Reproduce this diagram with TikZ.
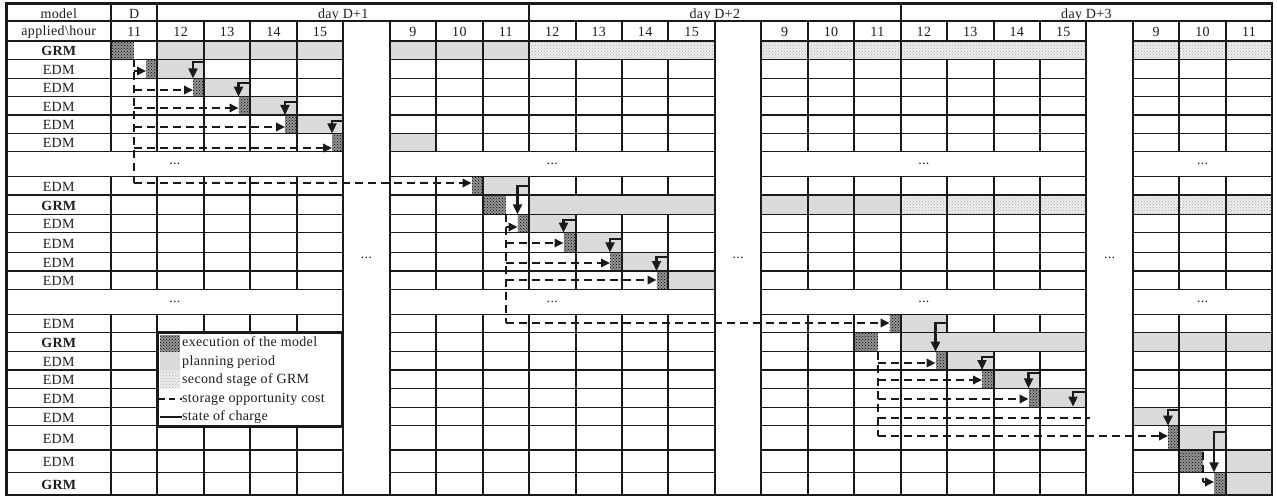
\documentclass[tikz,border=0pt]{standalone}
\usepackage{fontspec}
\setmainfont{Liberation Serif}[LetterSpace=2.5]
\usetikzlibrary{arrows.meta,patterns}
\definecolor{ln}{HTML}{1A1A1A}
\definecolor{plan}{HTML}{DADADA}
\definecolor{txtc}{HTML}{1E1E1E}
\newcommand{\mycell}[6]{\node[#6, anchor=north west, minimum width={#4-#2}, minimum height={#5-#3}] (#1) at ({#2},{#3}) {};}
\tikzset{
  cel/.style={inner sep=0pt, outer sep=0pt},
  exe/.style={cel, preaction={fill=black!42}, pattern=crosshatch dots, pattern color=black},
  pln/.style={cel, fill=plan},
  sec/.style={cel, preaction={fill=black!7}, pattern=crosshatch dots, pattern color=black!32},
  hl/.style={draw=ln, line width=1.3pt},
  vl/.style={draw=ln, line width=2pt},
  dsh/.style={draw=ln, line width=1.8pt, dash pattern=on 8pt off 5pt},
  dtip/.style={-{Triangle[length=9pt,width=8.5pt]}},
  soc/.style={draw=ln, line width=2.2pt, -{Triangle[length=10pt,width=9pt]}},
  txt/.style={inner sep=0pt, text=txtc, font=\fontsize{14}{16}\selectfont},
}
\begin{document}
\begin{tikzpicture}[x=1pt,y=-1pt,declare function={cx(\i)=111+46.45*\i;}]
\useasboundingbox (0,0) rectangle (1277,497);
\fill[white] (0,0) rectangle (1277,497);
% ---------- multi-cell fills
\fill[plan] ({cx(1)},41) rectangle ({cx(5)},59.3);
\fill[plan] ({cx(6)},41) rectangle ({cx(9)},59.3);
\path[sec] ({cx(9)},41) rectangle ({cx(13)},59.3);
\path[sec] ({cx(14)},41) rectangle ({cx(21)},59.3);
\path[sec] ({cx(22)},41) rectangle ({cx(25)},59.3);
\fill[plan] ({cx(9)},195) rectangle ({cx(13)},214.3);
\fill[plan] ({cx(14)},195) rectangle ({cx(17)},214.3);
\path[sec] ({cx(17)},195) rectangle ({cx(21)},214.3);
\path[sec] ({cx(22)},195) rectangle ({cx(25)},214.3);
\fill[plan] ({cx(17)},332.2) rectangle ({cx(21)},351.7);
\fill[plan] ({cx(22)},332.2) rectangle ({cx(25)},351.7);
\fill[plan] ({cx(24)},450) rectangle ({cx(25)},495);
% ---------- planning cells
\mycell{p3}{cx(1)}{59.3}{cx(2)}{78.3}{pln}
\mycell{p4}{cx(2)}{78.3}{cx(3)}{96.7}{pln}
\mycell{p5}{cx(3)}{96.7}{cx(4)}{115}{pln}
\mycell{p6}{cx(4)}{115}{cx(5)}{133.3}{pln}
\mycell{p7}{cx(6)}{133.3}{cx(7)}{151.7}{pln}
\mycell{p9}{cx(8)}{176.7}{cx(9)}{195}{pln}
\mycell{p11}{cx(9)}{214.3}{cx(10)}{232.7}{pln}
\mycell{p12}{cx(10)}{232.7}{cx(11)}{252.3}{pln}
\mycell{p13}{cx(11)}{252.3}{cx(12)}{271}{pln}
\mycell{p14}{cx(12)}{271}{cx(13)}{289.3}{pln}
\mycell{p16}{cx(17)}{314.3}{cx(18)}{332.2}{pln}
\mycell{p18}{cx(18)}{351.7}{cx(19)}{370}{pln}
\mycell{p19}{cx(19)}{370}{cx(20)}{388.3}{pln}
\mycell{p20}{cx(20)}{388.3}{cx(21)}{407.3}{pln}
\mycell{p21}{cx(22)}{407.3}{cx(23)}{425.7}{pln}
\mycell{p22}{cx(23)}{425.7}{cx(24)}{450}{pln}
% ---------- execution cells
\mycell{g1}{111}{41}{134}{59.3}{exe}
\mycell{e3}{146}{59.3}{cx(1)}{78.3}{exe}
\mycell{e4}{193}{78.3}{cx(2)}{96.7}{exe}
\mycell{e5}{238.5}{96.7}{cx(3)}{115}{exe}
\mycell{e6}{285}{115}{cx(4)}{133.3}{exe}
\mycell{e7}{332}{133.3}{cx(5)}{151.7}{exe}
\mycell{e9}{471.5}{176.7}{cx(8)}{195}{exe}
\mycell{g2}{cx(8)}{195}{506}{214.3}{exe}
\mycell{e11}{517.5}{214.3}{cx(9)}{232.7}{exe}
\mycell{e12}{563.5}{232.7}{cx(10)}{252.3}{exe}
\mycell{e13}{610}{252.3}{cx(11)}{271}{exe}
\mycell{e14}{656.5}{271}{cx(12)}{289.3}{exe}
\mycell{e16}{889.5}{314.3}{cx(17)}{332.2}{exe}
\mycell{g3}{cx(16)}{332.2}{878}{351.7}{exe}
\mycell{e18}{935.5}{351.7}{cx(18)}{370}{exe}
\mycell{e19}{982}{370}{cx(19)}{388.3}{exe}
\mycell{e20}{1028.5}{388.3}{cx(20)}{407.3}{exe}
\mycell{e22}{1168}{425.7}{cx(23)}{450}{exe}
\mycell{g4}{cx(23)}{450}{1203}{472.3}{exe}
\mycell{e24}{1214}{472.3}{cx(24)}{495}{exe}
% ---------- grid
\foreach \y in {41,59.3,78.3,96.7,115,133.3,151.7,176.7,195,214.3,232.7,252.3,271,289.3,314.3,332.2,351.7,370,388.3,407.3,425.7,450,472.3}
  \foreach \a/\b in {6.5/343.25,389.7/714.85,761.3/1086.45,1132.9/1272.25}
    \draw[hl] (\a,\y) -- (\b,\y);
\draw[hl] (6.5,21) -- (1272.25,21);
\foreach \a/\b in {3.5/151.7,176.7/289.3,314.3/495} \draw[vl] (111,\a) -- (111,\b);
\foreach \i in {1,9,17} \foreach \a/\b in {3.5/151.7,176.7/289.3,314.3/495} \draw[vl] ({cx(\i)},\a) -- ({cx(\i)},\b);
\foreach \i in {2,3,4,7,8,15,16,23,24} \foreach \a/\b in {21/151.7,176.7/289.3,314.3/495} \draw[vl] ({cx(\i)},\a) -- ({cx(\i)},\b);
\foreach \i in {10,11,12} \foreach \a/\b in {21/41,59.3/151.7,176.7/195,214.3/289.3,314.3/495} \draw[vl] ({cx(\i)},\a) -- ({cx(\i)},\b);
\foreach \i in {18,19,20} \foreach \a/\b in {21/41,59.3/151.7,176.7/289.3,314.3/332.2,351.7/495} \draw[vl] ({cx(\i)},\a) -- ({cx(\i)},\b);
\foreach \i in {5,6,13,14,21,22} \draw[vl] ({cx(\i)},21) -- ({cx(\i)},495);
\draw[draw=ln,line width=2.4pt] (6.5,3.5) rectangle (1272.25,495);
% ---------- header
\node[txt,anchor=base] (hmodel) at (58.75,18.3) {model};
\node[txt,anchor=base] (happ) at (58.75,36) {applied\textbackslash hour};
\node[txt,anchor=base] (hD) at ({cx(0)+23.2},18.3) {D};
\node[txt,anchor=base] (hD1) at ({cx(5)},18.3) {day D+1};
\node[txt,anchor=base] (hD2) at ({cx(13)},18.3) {day D+2};
\node[txt,anchor=base] (hD3) at ({cx(21)},18.3) {day D+3};
\foreach \i/\h in {0/11,1/12,2/13,3/14,4/15,6/9,7/10,8/11,9/12,10/13,11/14,12/15,14/9,15/10,16/11,17/12,18/13,19/14,20/15,22/9,23/10,24/11}
  \node[txt,anchor=base] (h\i) at ({cx(\i)+23.2},36.5) {\h};
% ---------- row labels
\foreach \y/\t [count=\k] in {50.15/{\bfseries GRM},68.8/EDM,87.5/EDM,105.85/EDM,124.15/EDM,142.5/EDM,185.85/EDM,204.65/{\bfseries GRM},223.5/EDM,242.5/EDM,261.65/EDM,280.15/EDM,323.25/EDM,341.95/{\bfseries GRM},360.85/EDM,379.15/EDM,397.8/EDM,416.5/EDM,437.85/EDM,461.15/EDM,483.65/{\bfseries GRM}}
  \node[txt,anchor=base] (lab\k) at (58.75,\y+5.5) {\t};
% ---------- dots
\foreach \i in {5,13,21} \node[txt] (gd\i) at ({cx(\i)+23.2},258) {...};
\foreach \x [count=\k] in {174.9,552.3,923.9,1202.6} {
  \node[txt] (da\k) at (\x,164) {...};
  \node[txt] (db\k) at (\x,301.8) {...};
}
% ---------- storage opportunity cost (dashed)
\coordinate (v1) at (134,59.3);
\draw[dsh] (v1) -- (v1 |- 0,183);
\foreach \e/\y in {e3/71,e4/90,e5/108,e6/127,e7/148,e9/183}
  \draw[dsh,dtip] (v1 |- 0,\y) -- (\e.west |- 0,\y);
\coordinate (v2) at (506,214.3);
\draw[dsh] (v2) -- (v2 |- 0,323);
\foreach \e/\y in {e11/227,e12/243,e13/263,e14/280,e16/323}
  \draw[dsh,dtip] (v2 |- 0,\y) -- (\e.west |- 0,\y);
\coordinate (v3) at (878,351.7);
\draw[dsh] (v3) -- (v3 |- 0,436);
\foreach \e/\y in {e18/363,e19/380,e20/399,e22/436}
  \draw[dsh,dtip] (v3 |- 0,\y) -- (\e.west |- 0,\y);
\coordinate (d21) at (1090,418);
\draw[dsh] (v3 |- d21) -- (d21);
\coordinate (v4) at (1203,452);
\draw[dsh] (v4) -- (v4 |- 0,482);
\draw[dsh,dtip] (v4 |- 0,482) -- (e24.west |- 0,482);
% ---------- state of charge (solid)
\foreach \p/\e/\d in {p3/e4/2.7,p4/e5/4.7,p5/e6/5.3,p6/e7/6,p9/e11/9,p11/e12/5.7,p12/e13/6.6,p13/e14/5,p16/e18/9,p18/e19/5.6,p19/e20/2.7,p21/e22/2.7,p22/e24/6.6}
  \draw[soc] ([shift={(-1,\d)}]\p.north east) -| (\e.north west);
\coordinate (c20) at (1073,406.5);
\draw[soc] ([shift={(-1,3.4)}]p20.north east) -| (c20);
% ---------- legend
\node[cel, draw=ln, line width=2.8pt, fill=white, anchor=north west, minimum width=185, minimum height=93.5] (leg) at (157.5,332.8) {};
\mycell{ls1}{159.5}{335}{180}{351.5}{exe}
\mycell{ls2}{159.5}{351.7}{180}{370}{pln}
\mycell{ls3}{159.5}{370}{180}{388}{sec}
\coordinate (lda) at (158.5,399);
\coordinate (ldb) at (181.5,399);
\draw[dsh, dash pattern=on 6pt off 4.5pt] (lda) -- (ldb);
\coordinate (lsa) at (159.5,417);
\coordinate (lsb) at (181.5,417);
\draw[draw=ln,line width=1.6pt] (lsa) -- (lsb);
\node[txt,anchor=base west] (lt1) at (182,346.7) {execution of the model};
\node[txt,anchor=base west] (lt2) at (182,365) {planning period};
\node[txt,anchor=base west] (lt3) at (182,383.3) {second stage of GRM};
\node[txt,anchor=base west] (lt4) at (182,402.3) {storage opportunity cost};
\node[txt,anchor=base west] (lt5) at (182,420) {state of charge};
\end{tikzpicture}
\end{document}
